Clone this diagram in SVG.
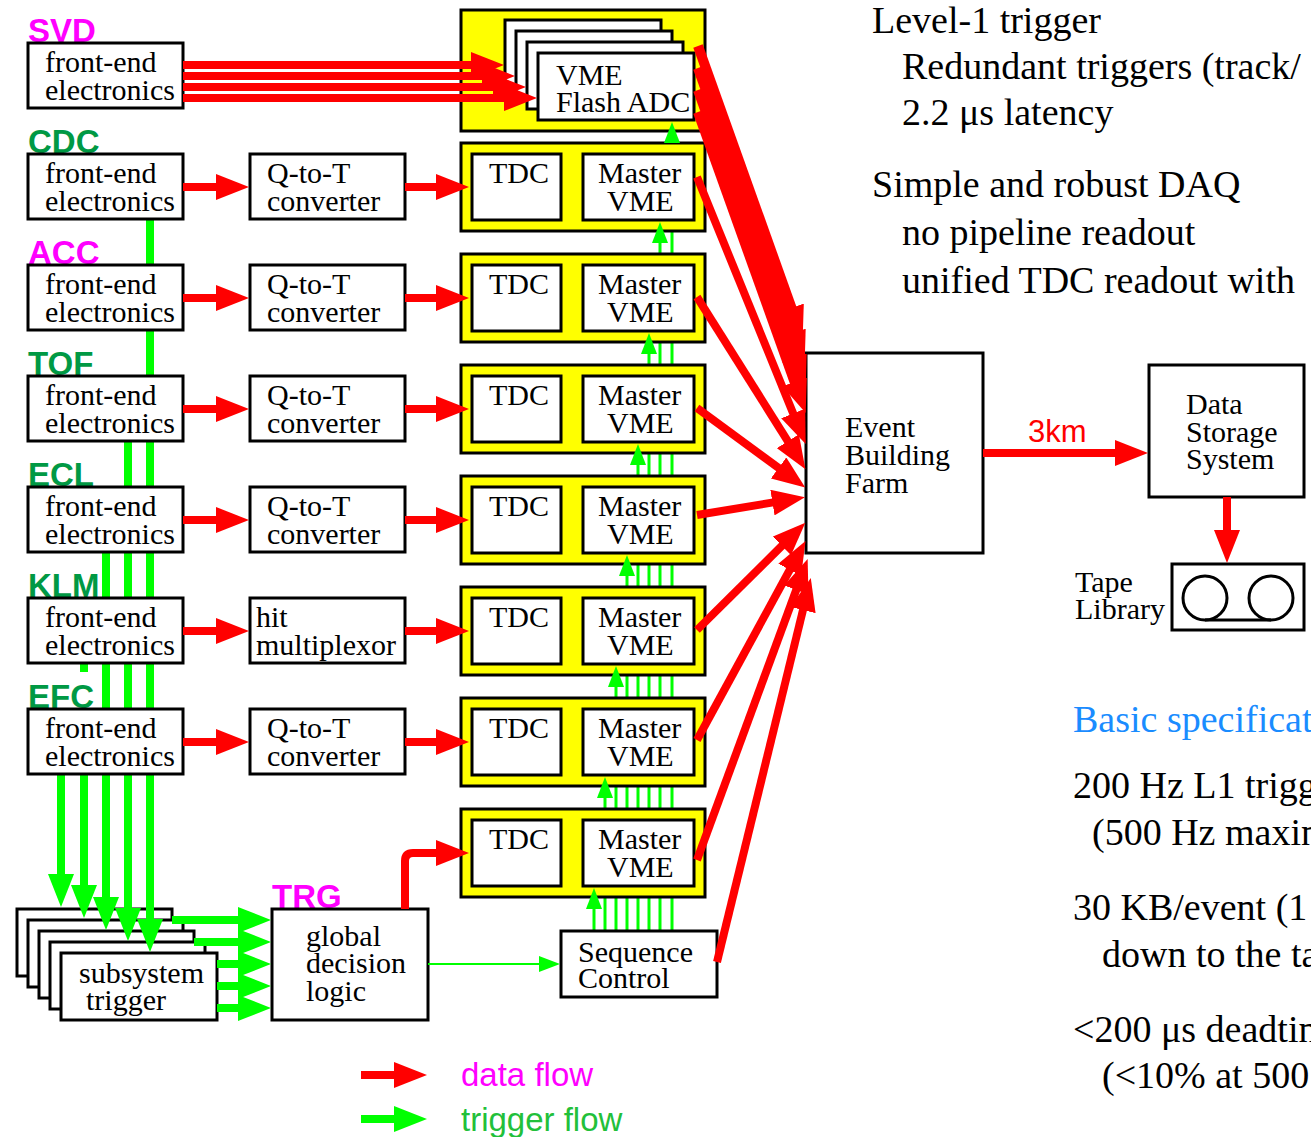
<svg xmlns="http://www.w3.org/2000/svg" width="1311" height="1137" viewBox="0 0 1311 1137">
<style>
.box{fill:#fff;stroke:#000;stroke-width:3}
.crate{fill:#ff0;stroke:#000;stroke-width:3}
.t{font-family:"Liberation Serif","Times New Roman",serif;font-size:30px;fill:#000}
.big{font-family:"Liberation Serif","Times New Roman",serif;font-size:38px;fill:#000}
.blue{fill:#1a8cff}
.lab{font-family:"Liberation Sans",Arial,sans-serif;font-size:33px;font-weight:bold}
.sans{font-family:"Liberation Sans",Arial,sans-serif}
.mag{fill:#f0f}
.grn{fill:#009944}
.r{fill:none;stroke:#f00;stroke-width:8;marker-end:url(#arR)}
.rw{stroke-width:10}
.g{fill:none;stroke:#0f0;stroke-width:8}
.ga{fill:none;stroke:#0f0;stroke-width:8;marker-end:url(#arG)}
.gs{fill:none;stroke:#0f0;stroke-width:3}
.gsa{fill:none;stroke:#0f0;stroke-width:3;marker-end:url(#arGs)}
.gt{fill:none;stroke:#0f0;stroke-width:2;marker-end:url(#arGs)}
</style>
<defs>
<marker id="arR" markerUnits="userSpaceOnUse" viewBox="0 0 33 26" markerWidth="33" markerHeight="26" refX="1" refY="13" orient="auto"><path d="M0,0L33,13L0,26z" fill="#f00"/></marker>
<marker id="arG" markerUnits="userSpaceOnUse" viewBox="0 0 33 26" markerWidth="33" markerHeight="26" refX="1" refY="13" orient="auto"><path d="M0,0L33,13L0,26z" fill="#0f0"/></marker>
<marker id="arGs" markerUnits="userSpaceOnUse" viewBox="0 0 21 16" markerWidth="21" markerHeight="16" refX="1" refY="8" orient="auto"><path d="M0,0L21,8L0,16z" fill="#0f0"/></marker>
</defs>
<rect width="1311" height="1137" fill="#fff"/>

<g id="connectors-under">
<path class="g" d="M150,220V900"/>
<path class="g" d="M128,442V890"/>
<path class="g" d="M106,553V880"/>
<path class="g" d="M84,664V868"/>
<path class="g" d="M61,775V858"/>
<path class="gs" d="M594,931V908"/>
<path class="gs" d="M605,931V797"/>
<path class="gs" d="M616,931V686"/>
<path class="gs" d="M627,931V575"/>
<path class="gs" d="M638,931V464"/>
<path class="gs" d="M649,931V353"/>
<path class="gs" d="M660,931V242"/>
<path class="gs" d="M672,931V142"/>
</g>

<g id="svd-fe"><text class="lab mag" x="28" y="42">SVD</text><rect class="box" x="28" y="43" width="155" height="65"/><text class="t" x="45" y="72">front-end</text><text class="t" x="45" y="100">electronics</text></g>
<g id="cdc-fe"><text class="lab grn" x="28" y="153">CDC</text><rect class="box" x="28" y="154" width="155" height="65"/><text class="t" x="45" y="183">front-end</text><text class="t" x="45" y="211">electronics</text></g>
<g id="acc-fe"><text class="lab mag" x="28" y="264">ACC</text><rect class="box" x="28" y="265" width="155" height="65"/><text class="t" x="45" y="294">front-end</text><text class="t" x="45" y="322">electronics</text></g>
<g id="tof-fe"><text class="lab grn" x="28" y="375">TOF</text><rect class="box" x="28" y="376" width="155" height="65"/><text class="t" x="45" y="405">front-end</text><text class="t" x="45" y="433">electronics</text></g>
<g id="ecl-fe"><text class="lab grn" x="28" y="486">ECL</text><rect class="box" x="28" y="487" width="155" height="65"/><text class="t" x="45" y="516">front-end</text><text class="t" x="45" y="544">electronics</text></g>
<g id="klm-fe"><text class="lab grn" x="28" y="597">KLM</text><rect class="box" x="28" y="598" width="155" height="65"/><text class="t" x="45" y="627">front-end</text><text class="t" x="45" y="655">electronics</text></g>
<g id="efc-fe"><rect x="28" y="672" width="68" height="36" fill="#fff"/><text class="lab grn" x="28" y="708">EFC</text><rect class="box" x="28" y="709" width="155" height="65"/><text class="t" x="45" y="738">front-end</text><text class="t" x="45" y="766">electronics</text></g>

<g id="cdc-q2t"><rect class="box" x="250" y="154" width="155" height="65"/><text class="t" x="267" y="183">Q-to-T</text><text class="t" x="267" y="211">converter</text></g>
<g id="acc-q2t"><rect class="box" x="250" y="265" width="155" height="65"/><text class="t" x="267" y="294">Q-to-T</text><text class="t" x="267" y="322">converter</text></g>
<g id="tof-q2t"><rect class="box" x="250" y="376" width="155" height="65"/><text class="t" x="267" y="405">Q-to-T</text><text class="t" x="267" y="433">converter</text></g>
<g id="ecl-q2t"><rect class="box" x="250" y="487" width="155" height="65"/><text class="t" x="267" y="516">Q-to-T</text><text class="t" x="267" y="544">converter</text></g>
<g id="klm-mux"><rect class="box" x="250" y="598" width="155" height="65"/><text class="t" x="256" y="627">hit</text><text class="t" x="256" y="655">multiplexor</text></g>
<g id="efc-q2t"><rect class="box" x="250" y="709" width="155" height="65"/><text class="t" x="267" y="738">Q-to-T</text><text class="t" x="267" y="766">converter</text></g>

<g id="svd-crate"><rect class="crate" x="461" y="10" width="244" height="121"/>
<rect class="box" x="505" y="20" width="156" height="67"/><rect class="box" x="516" y="31" width="156" height="67"/><rect class="box" x="527" y="42" width="156" height="67"/><rect class="box" x="538" y="53" width="156" height="67"/>
<text class="t" x="556" y="85">VME</text><text class="t" x="556" y="112">Flash ADC</text></g>
<g id="cdc-crate"><rect class="crate" x="461" y="143" width="244" height="88"/><rect class="box" x="472" y="154" width="89" height="66"/><rect class="box" x="583" y="154" width="111" height="66"/><text class="t" x="489" y="183">TDC</text><text class="t" x="598" y="183">Master</text><text class="t" x="607" y="211">VME</text></g>
<g id="acc-crate"><rect class="crate" x="461" y="254" width="244" height="88"/><rect class="box" x="472" y="265" width="89" height="66"/><rect class="box" x="583" y="265" width="111" height="66"/><text class="t" x="489" y="294">TDC</text><text class="t" x="598" y="294">Master</text><text class="t" x="607" y="322">VME</text></g>
<g id="tof-crate"><rect class="crate" x="461" y="365" width="244" height="88"/><rect class="box" x="472" y="376" width="89" height="66"/><rect class="box" x="583" y="376" width="111" height="66"/><text class="t" x="489" y="405">TDC</text><text class="t" x="598" y="405">Master</text><text class="t" x="607" y="433">VME</text></g>
<g id="ecl-crate"><rect class="crate" x="461" y="476" width="244" height="88"/><rect class="box" x="472" y="487" width="89" height="66"/><rect class="box" x="583" y="487" width="111" height="66"/><text class="t" x="489" y="516">TDC</text><text class="t" x="598" y="516">Master</text><text class="t" x="607" y="544">VME</text></g>
<g id="klm-crate"><rect class="crate" x="461" y="587" width="244" height="88"/><rect class="box" x="472" y="598" width="89" height="66"/><rect class="box" x="583" y="598" width="111" height="66"/><text class="t" x="489" y="627">TDC</text><text class="t" x="598" y="627">Master</text><text class="t" x="607" y="655">VME</text></g>
<g id="efc-crate"><rect class="crate" x="461" y="698" width="244" height="88"/><rect class="box" x="472" y="709" width="89" height="66"/><rect class="box" x="583" y="709" width="111" height="66"/><text class="t" x="489" y="738">TDC</text><text class="t" x="598" y="738">Master</text><text class="t" x="607" y="766">VME</text></g>
<g id="trg-crate"><rect class="crate" x="461" y="809" width="244" height="88"/><rect class="box" x="472" y="820" width="89" height="66"/><rect class="box" x="583" y="820" width="111" height="66"/><text class="t" x="489" y="849">TDC</text><text class="t" x="598" y="849">Master</text><text class="t" x="607" y="877">VME</text></g>

<g id="subsystem-trigger">
<rect class="box" x="17" y="909" width="155" height="67"/><rect class="box" x="28" y="920" width="155" height="67"/><rect class="box" x="39" y="931" width="155" height="67"/><rect class="box" x="50" y="942" width="155" height="67"/><rect class="box" x="61" y="953" width="156" height="67"/>
<text class="t" x="79" y="983">subsystem</text><text class="t" x="86" y="1010">trigger</text></g>
<g id="gdl"><text class="lab mag" x="272" y="908">TRG</text><rect class="box" x="272" y="909" width="156" height="111"/><text class="t" x="306" y="946">global</text><text class="t" x="306" y="973">decision</text><text class="t" x="306" y="1001">logic</text></g>
<g id="seq"><rect class="box" x="561" y="931" width="156" height="66"/><text class="t" x="578" y="962">Sequence</text><text class="t" x="578" y="988">Control</text></g>
<g id="eb"><rect class="box" x="806" y="353" width="177" height="200"/><text class="t" x="845" y="437">Event</text><text class="t" x="845" y="465">Building</text><text class="t" x="845" y="493">Farm</text></g>
<g id="dss"><rect class="box" x="1149" y="365" width="155" height="132"/><text class="t" x="1186" y="414">Data</text><text class="t" x="1186" y="442">Storage</text><text class="t" x="1186" y="469">System</text></g>
<g id="tape"><rect class="box" x="1172" y="564" width="132" height="66"/><circle cx="1205" cy="598" r="22" fill="none" stroke="#000" stroke-width="3"/><circle cx="1271" cy="598" r="22" fill="none" stroke="#000" stroke-width="3"/><path d="M1205,620H1271" stroke="#000" stroke-width="3"/><text class="t" x="1075" y="592">Tape</text><text class="t" x="1075" y="619">Library</text></g>

<g id="connectors">
<path class="r" d="M183,65H472"/><path class="r" d="M183,76H483"/><path class="r" d="M183,87H494"/><path class="r" d="M183,98H505"/>
<path class="r" d="M183,187H217"/><path class="r" d="M183,298H217"/><path class="r" d="M183,409H217"/><path class="r" d="M183,520H217"/><path class="r" d="M183,631H217"/><path class="r" d="M183,742H217"/>
<path class="r" d="M405,187H437"/><path class="r" d="M405,298H437"/><path class="r" d="M405,409H437"/><path class="r" d="M405,520H437"/><path class="r" d="M405,631H437"/><path class="r" d="M405,742H437"/>
<path class="r" d="M405,909V861Q405,853 413,853H437"/>
<path class="r rw" d="M698,46L791.9,308.9"/>
<path class="r rw" d="M698,68L793.8,334"/>
<path class="r rw" d="M698,90L794.8,358.9"/>
<path class="r rw" d="M698,112L794.9,382.9"/>
<path class="r" d="M697,177L793.6,414.4"/>
<path class="r" d="M697,297L788.4,442.1"/>
<path class="r" d="M697,408L779.4,468.5"/>
<path class="r" d="M697,515L773.4,502.4"/>
<path class="r" d="M697,630L782.6,545.2"/>
<path class="r" d="M697,740L790.2,569"/>
<path class="r" d="M697,860L796.6,589"/>
<path class="r" d="M717,962L803.2,609.1"/>
<path class="r" d="M983,453H1116"/>
<path class="r" d="M1227,497V531"/>
<path class="ga" d="M150,895V920"/><path class="ga" d="M128,885V909"/><path class="ga" d="M106,875V898"/><path class="ga" d="M84,865V886"/><path class="ga" d="M61,855V875"/>
<path class="ga" d="M172,920H239"/><path class="ga" d="M194,942H239"/><path class="ga" d="M217,964H239"/><path class="ga" d="M217,986H239"/><path class="ga" d="M217,1008H239"/>
<path class="gt" d="M428,964H540"/>
<path class="gsa" d="M594,909V908"/><path class="gsa" d="M605,798V797"/><path class="gsa" d="M616,687V686"/><path class="gsa" d="M627,576V575"/><path class="gsa" d="M638,465V464"/><path class="gsa" d="M649,354V353"/><path class="gsa" d="M660,243V242"/><path class="gsa" d="M672,143V142"/>
</g>
<text class="sans" x="1028" y="442" font-size="31" fill="#f00">3km</text>

<g id="legend">
<path class="r" d="M361,1075H395"/><text class="sans mag" x="461" y="1086" font-size="33">data flow</text>
<path class="ga" d="M361,1119H395"/><text class="sans" x="461" y="1131" font-size="33" fill="#22c03a">trigger flow</text>
</g>

<g id="notes">
<text class="big" x="872" y="33">Level-1 trigger</text>
<text class="big" x="902" y="79">Redundant triggers (track/</text>
<text class="big" x="902" y="125">2.2 μs latency</text>
<text class="big" x="872" y="197">Simple and robust DAQ</text>
<text class="big" x="902" y="245">no pipeline readout</text>
<text class="big" x="902" y="293">unified TDC readout with</text>
<text class="big blue" x="1073" y="732">Basic specificat</text>
<text class="big" x="1073" y="798">200 Hz L1 trigg</text>
<text class="big" x="1092" y="845">(500 Hz maxin</text>
<text class="big" x="1073" y="920">30 KB/event (1</text>
<text class="big" x="1102" y="967">down to the ta</text>
<text class="big" x="1073" y="1042">&lt;200 μs deadtin</text>
<text class="big" x="1102" y="1088">(&lt;10% at 500</text>
</g>
</svg>
